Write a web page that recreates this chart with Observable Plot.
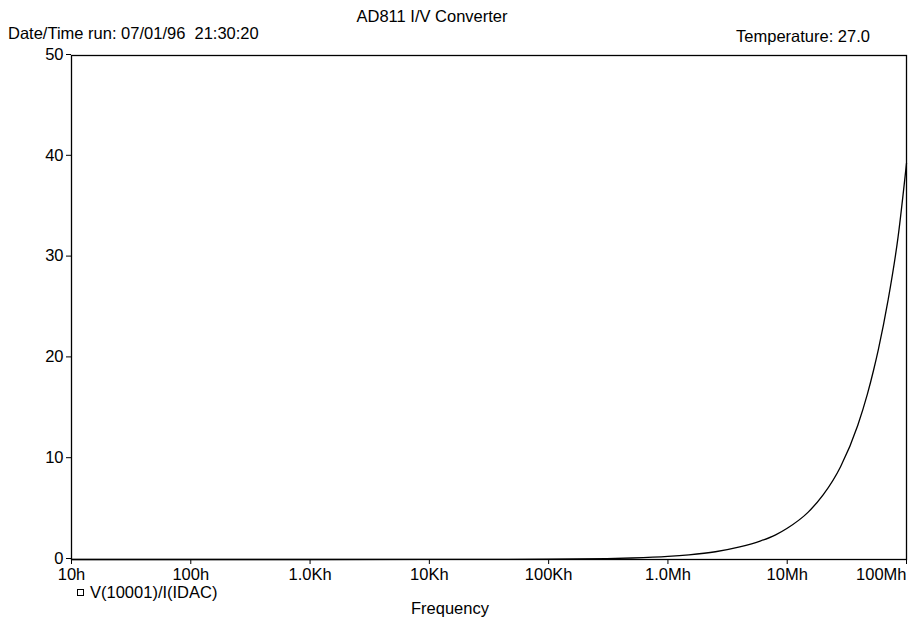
<!DOCTYPE html>
<html><head><meta charset="utf-8">
<script src="https://cdn.jsdelivr.net/npm/d3@7"></script>
<script src="https://cdn.jsdelivr.net/npm/@observablehq/plot@0.6"></script>
<style>
body{margin:0;background:#fff;font-family:"Liberation Sans",Arial,sans-serif;}
#wrap{position:relative;width:908px;height:619px;}
#chart{position:absolute;left:0;top:0;}
.t{position:absolute;font-size:16.5px;color:#000;white-space:pre;line-height:1;}
.sq{display:inline-block;width:5px;height:5px;border:1px solid #000;margin-right:6px;vertical-align:2px;}
</style></head><body>
<div id="wrap">
<div id="chart"></div>
<div class="t" style="left:0;width:864px;text-align:center;top:8px">AD811 I/V Converter</div>
<div class="t" style="left:8px;top:25px">Date/Time run: 07/01/96  21:30:20</div>
<div class="t" style="right:38px;top:28px">Temperature: 27.0</div>
<div class="t" style="left:77px;top:584px"><span class="sq"></span>V(10001)/I(IDAC)</div>
<div class="t" style="left:0;width:900px;text-align:center;top:600px">Frequency</div>
</div>
<script>
const freq  = [10, 100, 1e3, 1e4, 1e5, 3e5, 5e5, 1e6, 1.5e6, 2.5e6, 4e6, 6e6, 8e6, 1e7, 1.5e7, 2e7, 2.8e7, 3.9e7, 4.7e7, 5.3e7, 5.8e7, 7e7, 8.5e7, 1e8];
const value = [0, 0, 0, 0.003, 0.03, 0.09, 0.15, 0.3, 0.46, 0.77, 1.25, 1.85, 2.45, 3.1, 4.7, 6.4, 9.2, 13.3, 16.4, 18.8, 20.8, 25.7, 32.0, 39.3];
const xTicks = [10, 100, 1e3, 1e4, 1e5, 1e6, 1e7, 1e8];
const xLabels = ["10h", "100h", "1.0Kh", "10Kh", "100Kh", "1.0Mh", "10Mh", "100Mh"];
const yTicks = [0, 10, 20, 30, 40, 50];

const data = freq.map((f, i) => ({f, v: value[i]}));
const xl = xTicks.map((t, i) => ({t, s: xLabels[i]}));
const fs = 16.5;

const chart = Plot.plot({
  width: 908, height: 619,
  marginTop: 55, marginBottom: 60, marginLeft: 71, marginRight: 2,
  style: {background: "#fff", color: "#000", overflow: "visible", fontFamily: "Liberation Sans, Arial, sans-serif", fontSize: fs},
  x: {type: "log", domain: [10, 1e8]},
  y: {domain: [0, 50]},
  marks: [
    Plot.frame({stroke: "#000", strokeWidth: 1.3}),
    Plot.axisY({ticks: yTicks, tickSize: 5, tickPadding: 3, label: null, fontSize: fs, dy: -1}),
    Plot.axisX({ticks: xTicks, tickSize: 5, tickFormat: () => "", label: null}),
    Plot.text(xl.slice(0, 7), {x: "t", text: "s", frameAnchor: "bottom", lineAnchor: "top", dy: 9, fontSize: fs}),
    Plot.text(xl.slice(7), {x: "t", text: "s", frameAnchor: "bottom", lineAnchor: "top", dy: 9, textAnchor: "end", fontSize: fs}),
    Plot.line(data, {x: "f", y: "v", stroke: "#000", strokeWidth: 1.3, curve: "monotone-x"})
  ]
});
document.getElementById("chart").appendChild(chart);
</script>
</body></html>
